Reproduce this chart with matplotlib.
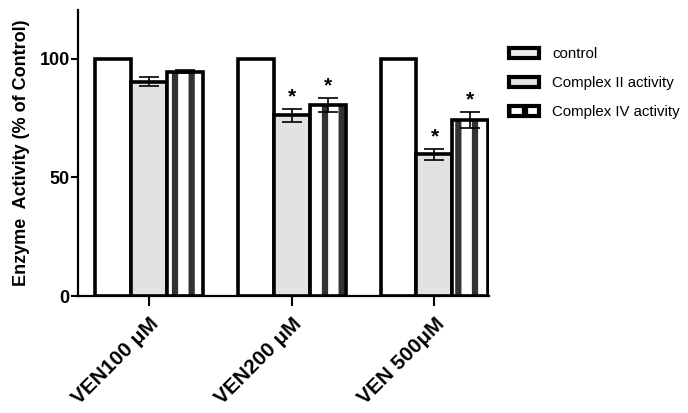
import matplotlib
matplotlib.use('Agg')
import matplotlib.pyplot as plt
from matplotlib.patches import Patch
import numpy as np

plt.rcParams['font.family'] = ['Liberation Sans', 'DejaVu Sans']
plt.rcParams['hatch.linewidth'] = 4.5

# data
groups = ['VEN100 \u03bcM', 'VEN200 \u03bcM', 'VEN 500\u03bcM']
control = [100, 100, 100]
complex2 = [90.3, 76.1, 59.8]
complex2_err = [2.0, 2.8, 2.3]
complex4 = [94.5, 80.6, 74.3]
complex4_err = [0.6, 3.0, 3.4]
signif2 = [False, True, True]
signif4 = [False, True, True]
series_names = ['control', 'Complex II activity', 'Complex IV activity']

fig = plt.figure(figsize=(6.88, 4.13), dpi=100)
ax = fig.add_axes([0.1134, 0.283, 0.598, 0.693])

x = np.arange(len(groups))
w = 0.252

# control bars
ax.bar(x - w, control, w, color='white', edgecolor='black', linewidth=2.6, zorder=2)
# complex II: light grey fill
ax.bar(x, complex2, w, color='#e2e2e2', edgecolor='black', linewidth=2.6, zorder=2)
# complex IV: vertical stripes (hatch drawn in dark grey, then black outline on top)
ax.bar(x + w, complex4, w, color='white', edgecolor='#333333', linewidth=0, hatch='|', zorder=2)
ax.bar(x + w, complex4, w, color='none', edgecolor='black', linewidth=2.6, zorder=3)

ax.errorbar(x, complex2, yerr=complex2_err, fmt='none', ecolor='black',
            elinewidth=1.2, capsize=7, capthick=1.2, zorder=4)
ax.errorbar(x + w, complex4, yerr=complex4_err, fmt='none', ecolor='black',
            elinewidth=1.2, capsize=7, capthick=1.2, zorder=4)

for i in range(len(groups)):
    if signif2[i]:
        ax.text(x[i], complex2[i] + complex2_err[i] + 5, '*', ha='center', va='center',
                fontsize=15, fontweight='bold')
    if signif4[i]:
        ax.text(x[i] + w, complex4[i] + complex4_err[i] + 5, '*', ha='center', va='center',
                fontsize=15, fontweight='bold')

ax.set_xlim(-0.497, 2.385)
ax.set_ylim(0, 120.5)
ax.set_yticks([0, 50, 100])
ax.set_xticks(x)
ax.set_xticklabels(groups, rotation=45, ha='right', rotation_mode='anchor',
                   fontsize=15, fontweight='bold')
for lab in ax.get_yticklabels():
    lab.set_fontweight('bold')
    lab.set_fontsize(13)
ax.tick_params(axis='y', length=5, width=1.5, pad=1)
ax.tick_params(axis='x', length=7, width=1.5, pad=6)
ax.spines['top'].set_visible(False)
ax.spines['right'].set_visible(False)
ax.spines['left'].set_linewidth(1.6)
ax.spines['bottom'].set_linewidth(1.6)
ax.set_ylabel('Enzyme  Activity (% of Control)', fontsize=13, fontweight='bold', labelpad=7)

# legend handles look like small thick-bordered boxes
handles = [
    Patch(facecolor='#eeeeee', edgecolor='black', linewidth=3),
    Patch(facecolor='#e2e2e2', edgecolor='black', linewidth=3),
    Patch(facecolor='white', edgecolor='black', linewidth=3, hatch='|'),
]
fig.legend(handles, series_names, loc='upper left', bbox_to_anchor=(0.72, 0.918),
           frameon=False, fontsize=10.8, handlelength=2.0, handleheight=0.7,
           labelspacing=1.0, handletextpad=0.9)

fig.savefig('out.png', dpi=100)
